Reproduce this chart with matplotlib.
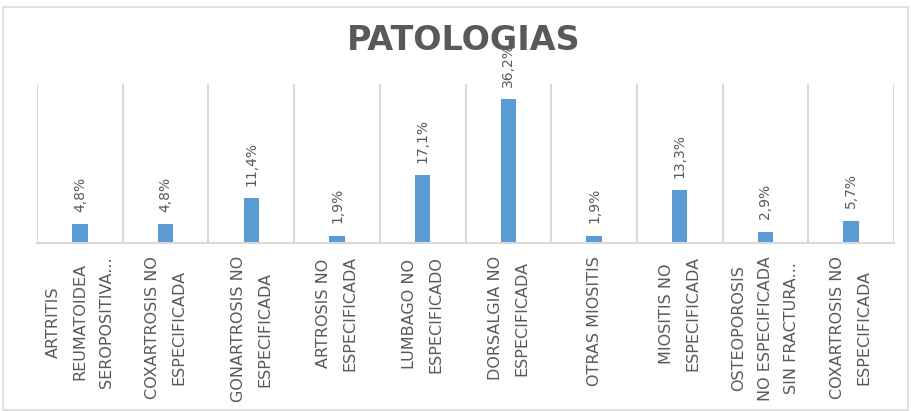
import matplotlib.pyplot as plt
import matplotlib.patches as mpatches
import numpy as np

categories = [
    "ARTRITIS\nREUMATOIDEA\nSEROPOSITIVA...",
    "COXARTROSIS NO\nESPECIFICADA",
    "GONARTROSIS NO\nESPECIFICADA",
    "ARTROSIS NO\nESPECIFICADA",
    "LUMBAGO NO\nESPECIFICADO",
    "DORSALGIA NO\nESPECIFICADA",
    "OTRAS MIOSITIS",
    "MIOSITIS NO\nESPECIFICADA",
    "OSTEOPOROSIS\nNO ESPECIFICADA\nSIN FRACTURA...",
    "COXARTROSIS NO\nESPECIFICADA",
]
values = [4.8, 4.8, 11.4, 1.9, 17.1, 36.2, 1.9, 13.3, 2.9, 5.7]
labels = ["4,8%", "4,8%", "11,4%", "1,9%", "17,1%", "36,2%", "1,9%", "13,3%", "2,9%", "5,7%"]

gray = "#595959"
line = "#d9d9d9"

fig = plt.figure(figsize=(9.12, 4.11), dpi=100)
fig.patches.append(mpatches.Rectangle((3 / 912, 0.002), 905 / 912, 1 - 7 / 411 - 0.002,
                                      transform=fig.transFigure, fill=False,
                                      edgecolor=line, linewidth=1.2))

ax = fig.add_axes([37 / 912, 1 - 243.5 / 411, 857 / 912, 159.5 / 411])
x = np.arange(len(values))
ax.bar(x, values, width=0.18, color="#5b9bd5")
ax.set_xlim(-0.5, len(values) - 0.5)
ax.set_ylim(0, 40)

# vertical separators between categories
for b in np.arange(-0.5, len(values), 1):
    ax.axvline(b, color=line, linewidth=1.5, zorder=0)
for s in ["top", "right", "left"]:
    ax.spines[s].set_visible(False)
ax.spines["bottom"].set_color(line)
ax.spines["bottom"].set_linewidth(1.5)
ax.set_yticks([])

for xi, v, t in zip(x, values, labels):
    ax.annotate(t, (xi, v), xytext=(0, 9), textcoords="offset points",
                rotation=90, ha="center", va="bottom", fontsize=10,
                color=gray)

ax.set_xticks(x)
ax.set_xticklabels(categories, rotation=90, ha="center", va="top",
                   multialignment="center", fontsize=11.5, color=gray,
                   linespacing=1.95)
ax.tick_params(axis="x", length=0, pad=9)

fig.text(464 / 912, 1 - 41 / 411, "PATOLOGIAS", ha="center", va="center",
         fontsize=24, fontweight="bold", color=gray)

fig.savefig("out.png", dpi=100)
